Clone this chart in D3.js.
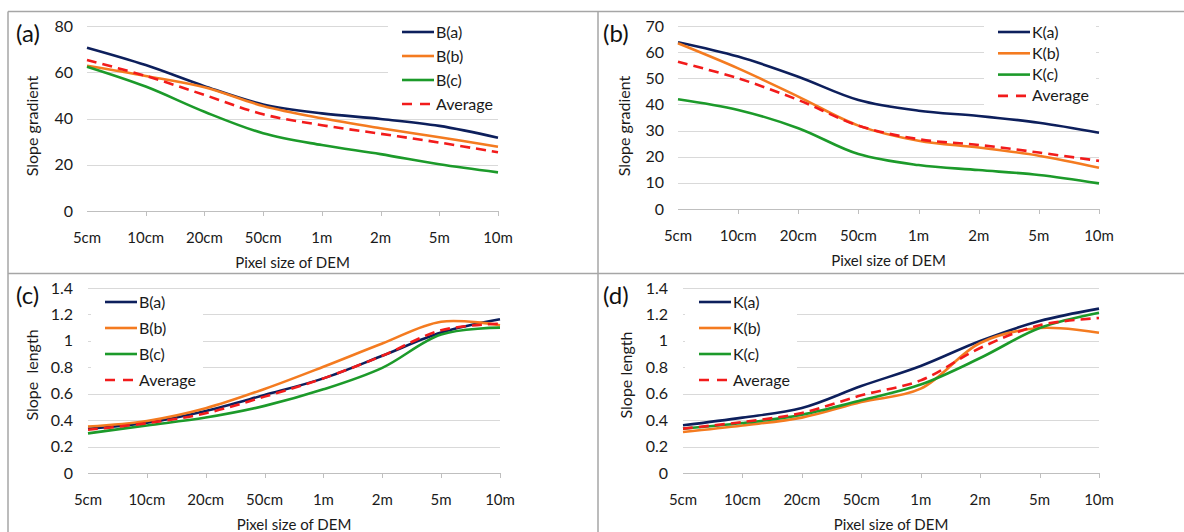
<!DOCTYPE html>
<html>
<head>
<meta charset="utf-8">
<script src="https://cdn.jsdelivr.net/npm/d3@7"></script>
<style>
  body { margin: 0; background: #fff; }
  svg { font-family: Lato, "Open Sans", sans-serif; }
</style>
</head>
<body>
<svg id="svg1" width="1184" height="532"></svg>
<script>
var sizes = ['5cm', '10cm', '20cm', '50cm', '1m', '2m', '5m', '10m'];

// (a) slope gradient, B sites
var gradB_a = [70.6, 63.1, 54.0, 46.1, 42.2, 39.8, 36.8, 31.7];
var gradB_b = [62.8, 58.4, 53.5, 45.4, 40.1, 35.8, 31.9, 27.8];
var gradB_c = [62.4, 53.8, 42.9, 33.6, 28.5, 24.6, 20.2, 16.7];
var gradB_avg = [65.3, 58.4, 50.2, 41.8, 37.1, 33.4, 29.6, 25.4];

// (b) slope gradient, K sites
var gradK_a = [63.8, 58.3, 50.6, 41.7, 37.6, 35.6, 33.0, 29.2];
var gradK_b = [63.4, 53.8, 43.0, 31.9, 26.1, 23.5, 20.4, 15.8];
var gradK_c = [42.0, 37.9, 30.9, 21.0, 16.8, 14.9, 13.0, 9.8];
var gradK_avg = [56.3, 50.0, 41.7, 31.9, 26.7, 24.5, 21.6, 18.4];

// (c) slope length, B sites
var lenB_a = [0.334, 0.38, 0.47, 0.59, 0.716, 0.887, 1.063, 1.163];
var lenB_b = [0.352, 0.394, 0.49, 0.636, 0.804, 0.98, 1.145, 1.118];
var lenB_c = [0.30, 0.36, 0.42, 0.508, 0.633, 0.796, 1.048, 1.10];
var lenB_avg = [0.327, 0.377, 0.452, 0.578, 0.716, 0.887, 1.08, 1.13];

// (d) slope length, K sites
var lenK_a = [0.361, 0.419, 0.492, 0.658, 0.81, 0.999, 1.15, 1.244];
var lenK_b = [0.31, 0.36, 0.419, 0.537, 0.638, 0.984, 1.097, 1.062];
var lenK_c = [0.336, 0.378, 0.441, 0.55, 0.669, 0.87, 1.097, 1.213];
var lenK_avg = [0.336, 0.386, 0.454, 0.588, 0.701, 0.946, 1.118, 1.173];

var gradTicks = [0, 20, 40, 60, 80];
var gradTicksK = [0, 10, 20, 30, 40, 50, 60, 70];
var lenTicks = [0, 0.2, 0.4, 0.6, 0.8, 1, 1.2, 1.4];

var colors = ['#0d1f5c', '#f47b20', '#1c9a2a', '#f21b1b'];

var svg = d3.select('svg');

// outer frame and dividers
var frame = svg.append('g').attr('stroke', '#a6a6a6').attr('stroke-width', 1.5).attr('fill', 'none');
frame.append('line').attr('x1', 8).attr('x2', 1184).attr('y1', 11.5).attr('y2', 11.5);
frame.append('line').attr('x1', 8).attr('x2', 8).attr('y1', 11.5).attr('y2', 532);
frame.append('line').attr('x1', 598).attr('x2', 598).attr('y1', 11.5).attr('y2', 532);
frame.append('line').attr('x1', 8).attr('x2', 1184).attr('y1', 273.5).attr('y2', 273.5);

function panel(opt) {
    var g = svg.append('g');
    var x = d3.scalePoint().domain(sizes).range([opt.x0, opt.x1]);
    var y = d3.scaleLinear().domain([0, opt.ymax]).range([opt.y0, opt.y1]);

    // gridlines
    g.selectAll('.grid')
        .data(opt.ticks.filter(function (d) { return d > 0; }))
        .enter()
        .append('line')
        .attr('x1', opt.x0).attr('x2', opt.x1)
        .attr('y1', function (d) { return Math.round(y(d)) + 0.5; })
        .attr('y2', function (d) { return Math.round(y(d)) + 0.5; })
        .attr('stroke', '#d9d9d9')
        .attr('stroke-width', 1);

    // x axis line and ticks
    g.append('line')
        .attr('x1', opt.x0).attr('x2', opt.x1)
        .attr('y1', opt.y0 + 0.5).attr('y2', opt.y0 + 0.5)
        .attr('stroke', '#bfbfbf');
    g.selectAll('.xt')
        .data(sizes.slice(1))
        .enter()
        .append('line')
        .attr('x1', function (d) { return Math.round(x(d)) + 0.5; })
        .attr('x2', function (d) { return Math.round(x(d)) + 0.5; })
        .attr('y1', opt.y0).attr('y2', opt.y0 + 5)
        .attr('stroke', '#bfbfbf');

    // x labels
    g.selectAll('.xl')
        .data(sizes)
        .enter()
        .append('text')
        .attr('x', function (d) { return x(d); })
        .attr('y', opt.y0 + 32)
        .attr('text-anchor', 'middle')
        .attr('font-size', 15)
        .attr('fill', '#1a1a1a')
        .text(function (d) { return d; });

    // y labels
    g.selectAll('.yl')
        .data(opt.ticks)
        .enter()
        .append('text')
        .attr('x', opt.ylx)
        .attr('y', function (d) { return y(d) + 5.5; })
        .attr('text-anchor', 'end')
        .attr('font-size', 16)
        .attr('fill', '#1a1a1a')
        .text(function (d) { return d; });

    // axis titles
    g.append('text')
        .attr('x', (opt.x0 + opt.x1) / 2)
        .attr('y', opt.y0 + 57)
        .attr('text-anchor', 'middle')
        .attr('font-size', 15)
        .attr('fill', '#1a1a1a')
        .text('Pixel size of DEM');
    g.append('text')
        .attr('transform', 'translate(' + opt.ytx + ',' + opt.yty + ') rotate(-90)')
        .attr('text-anchor', 'middle')
        .attr('font-size', 16)
        .attr('fill', '#1a1a1a')
        .attr('xml:space', 'preserve')
        .style('white-space', 'pre')
        .text(opt.ytitle);

    // panel letter
    g.append('text')
        .attr('x', opt.lx)
        .attr('y', opt.y1 + 16)
        .attr('font-size', 24)
        .attr('fill', '#111')
        .text(opt.letter);

    // legend background
    g.append('rect')
        .attr('x', opt.legX - 14).attr('y', opt.legY - 12)
        .attr('width', 112).attr('height', opt.legStep * 3 + 24)
        .attr('fill', '#fff');

    var line = d3.line()
        .x(function (d, i) { return x(sizes[i]); })
        .y(function (d) { return y(d); })
        .curve(d3.curveCatmullRom.alpha(0.5));

    g.selectAll('.series')
        .data(opt.series)
        .enter()
        .append('path')
        .attr('d', function (d) { return line(d); })
        .attr('fill', 'none')
        .attr('stroke', function (d, i) { return colors[i]; })
        .attr('stroke-width', 2.6)
        .attr('stroke-dasharray', function (d, i) { return i === 3 ? '10,6' : null; });

    // legend
    var leg = g.selectAll('.leg')
        .data(opt.names)
        .enter()
        .append('g')
        .attr('transform', function (d, i) { return 'translate(' + opt.legX + ',' + (opt.legY + i * opt.legStep) + ')'; });
    leg.append('line')
        .attr('x1', 0).attr('x2', 32)
        .attr('stroke', function (d, i) { return colors[i]; })
        .attr('stroke-width', 2.6)
        .attr('stroke-dasharray', function (d, i) { return i === 3 ? '10,8' : null; });
    leg.append('text')
        .attr('x', 34).attr('y', 5.5)
        .attr('font-size', 16)
        .attr('fill', '#1a1a1a')
        .text(function (d) { return d; });
}

panel({
    x0: 87, x1: 498, y0: 211, y1: 26, ymax: 80, ticks: gradTicks, ylx: 73,
    ytitle: 'Slope gradient', ytx: 38, yty: 126, lx: 16, letter: '(a)',
    series: [gradB_a, gradB_b, gradB_c, gradB_avg],
    names: ['B(a)', 'B(b)', 'B(c)', 'Average'],
    legX: 402, legY: 32, legStep: 24
});
panel({
    x0: 678, x1: 1099, y0: 209, y1: 26, ymax: 70, ticks: gradTicksK, ylx: 664,
    ytitle: 'Slope gradient', ytx: 630, yty: 126, lx: 603, letter: '(b)',
    series: [gradK_a, gradK_b, gradK_c, gradK_avg],
    names: ['K(a)', 'K(b)', 'K(c)', 'Average'],
    legX: 998, legY: 32, legStep: 21.3
});
panel({
    x0: 88, x1: 500, y0: 473, y1: 288, ymax: 1.4, ticks: lenTicks, ylx: 73,
    ytitle: 'Slope  length', ytx: 38, yty: 375, lx: 16, letter: '(c)',
    series: [lenB_a, lenB_b, lenB_c, lenB_avg],
    names: ['B(a)', 'B(b)', 'B(c)', 'Average'],
    legX: 105, legY: 302, legStep: 26
});
panel({
    x0: 683, x1: 1099, y0: 473, y1: 288, ymax: 1.4, ticks: lenTicks, ylx: 668,
    ytitle: 'Slope length', ytx: 632, yty: 375, lx: 603, letter: '(d)',
    series: [lenK_a, lenK_b, lenK_c, lenK_avg],
    names: ['K(a)', 'K(b)', 'K(c)', 'Average'],
    legX: 699, legY: 302, legStep: 26
});
</script>
</body>
</html>
